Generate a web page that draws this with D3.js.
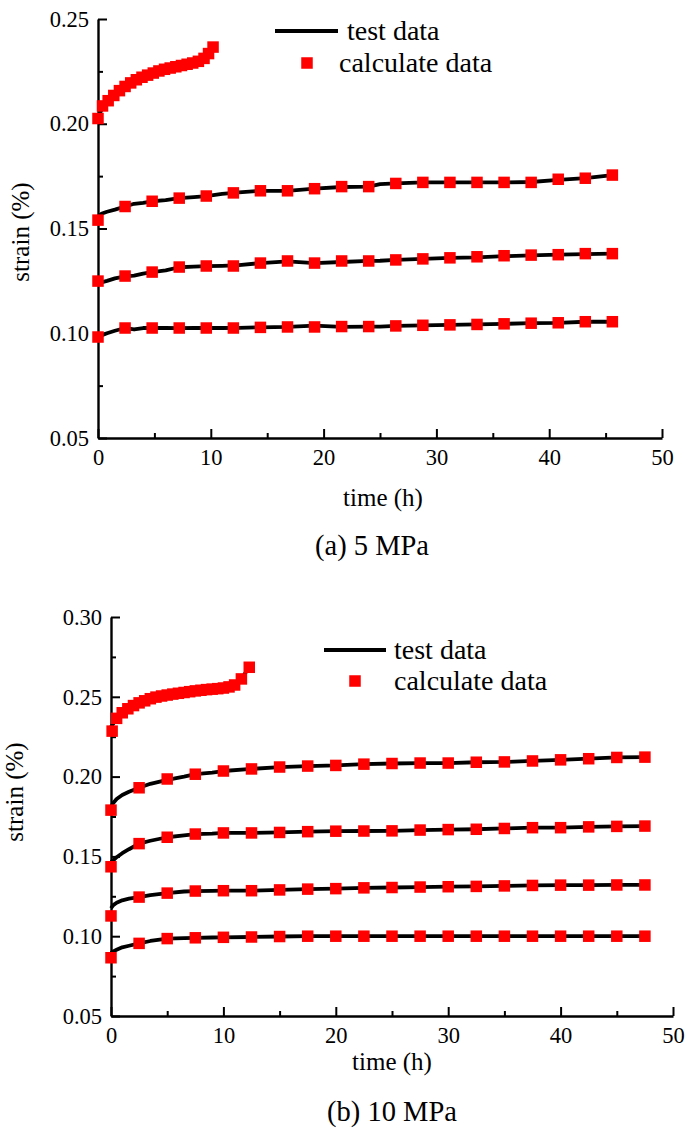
<!doctype html>
<meta charset="utf-8">
<title>creep strain</title>
<style>
body { margin: 0; background: #fff; }
svg { font-family: "Liberation Serif", "Times New Roman", serif; }
</style>
<script src="https://cdn.jsdelivr.net/npm/d3@7"></script>
<body>
<svg id="chart" width="685" height="1136"></svg>
<script>
// ---- panel (a) 5 MPa ----
var calcTimeA = [0, 2.4, 4.8, 7.2, 9.6, 12, 14.4, 16.8, 19.2, 21.6, 24, 26.4, 28.8, 31.2, 33.6, 36, 38.4, 40.8, 43.2, 45.6];
var calcA1 = [0.154, 0.1605, 0.163, 0.1645, 0.1655, 0.167, 0.168, 0.168, 0.169, 0.170, 0.170, 0.1715, 0.172, 0.172, 0.172, 0.172, 0.172, 0.1735, 0.174, 0.1755];
var calcA2 = [0.1249, 0.1273, 0.1292, 0.1316, 0.1321, 0.1321, 0.1335, 0.1345, 0.1335, 0.1345, 0.1345, 0.135, 0.1355, 0.136, 0.1365, 0.137, 0.1373, 0.1375, 0.138, 0.138];
var calcA3 = [0.0982, 0.1025, 0.1025, 0.1025, 0.1025, 0.1025, 0.1028, 0.103, 0.103, 0.1032, 0.1032, 0.1035, 0.1038, 0.104, 0.1042, 0.1045, 0.1048, 0.105, 0.1055, 0.1055];
var topTimeA = [0, 0.4, 0.9, 1.4, 1.9, 2.4, 2.9, 3.4, 3.9, 4.4, 4.9, 5.4, 5.9, 6.4, 6.9, 7.4, 7.9, 8.4, 8.9, 9.4, 9.8, 10.2];
var topA = [0.2025, 0.2085, 0.211, 0.2135, 0.2158, 0.2178, 0.2195, 0.221, 0.2222, 0.2232, 0.2242, 0.2252, 0.226, 0.2266, 0.2272, 0.2278, 0.2284, 0.229, 0.2298, 0.2312, 0.2335, 0.2366];

var testTimeA = [0, 0.3, 0.8, 1.5, 2.4, 3.2, 4.0, 4.8, 6, 7.2, 8.5, 9.6, 11, 12.5, 14.4, 16.8, 19.2, 21.6, 24, 25, 26.4, 28.8, 31.2, 33.6, 36, 38.4, 40.8, 43.2, 45.6];
var testA1 = [0.1555, 0.157, 0.158, 0.159, 0.1605, 0.1618, 0.1622, 0.163, 0.1635, 0.1645, 0.165, 0.1655, 0.1665, 0.1672, 0.168, 0.168, 0.169, 0.1698, 0.170, 0.1712, 0.1715, 0.172, 0.172, 0.172, 0.172, 0.1722, 0.1732, 0.174, 0.1755];
var testA2 = [0.1245, 0.1243, 0.125, 0.1262, 0.1272, 0.1275, 0.1285, 0.1292, 0.130, 0.1315, 0.1318, 0.132, 0.1322, 0.1325, 0.1335, 0.1343, 0.1335, 0.134, 0.1345, 0.1346, 0.135, 0.1355, 0.136, 0.1362, 0.1368, 0.1372, 0.1375, 0.1378, 0.138];
var testA3 = [0.0985, 0.099, 0.1, 0.1012, 0.1025, 0.1018, 0.1025, 0.1025, 0.1025, 0.1024, 0.1025, 0.1025, 0.1025, 0.1026, 0.1028, 0.103, 0.1036, 0.103, 0.1032, 0.1032, 0.1035, 0.1038, 0.104, 0.1042, 0.1045, 0.1048, 0.105, 0.1055, 0.1055];
var testTopTimeA = [0, 0.5, 1.5, 2.5, 3.5, 4.5, 5.5, 6.5, 7.5, 8.5, 9.5, 10.2];
var testTopA = [0.203, 0.209, 0.213, 0.2175, 0.2205, 0.2232, 0.2252, 0.2266, 0.2278, 0.2292, 0.232, 0.2366];

// ---- panel (b) 10 MPa ----
var calcTimeB = [0, 2.5, 5, 7.5, 10, 12.5, 15, 17.5, 20, 22.5, 25, 27.5, 30, 32.5, 35, 37.5, 40, 42.5, 45, 47.5];
var calcB1 = [0.179, 0.193, 0.1985, 0.2015, 0.2035, 0.2048, 0.206, 0.2066, 0.207, 0.2078, 0.2082, 0.2085, 0.2085, 0.209, 0.2092, 0.2098, 0.2105, 0.2112, 0.212, 0.2122];
var calcB2 = [0.1435, 0.158, 0.162, 0.164, 0.1647, 0.1647, 0.165, 0.1655, 0.1658, 0.1659, 0.166, 0.1665, 0.1668, 0.167, 0.1675, 0.168, 0.168, 0.1685, 0.1688, 0.169];
var calcB3 = [0.1127, 0.1245, 0.127, 0.1283, 0.1285, 0.1285, 0.129, 0.1295, 0.1298, 0.1303, 0.1305, 0.1308, 0.131, 0.1312, 0.1315, 0.1318, 0.132, 0.132, 0.1321, 0.1321];
var calcB4 = [0.0865, 0.0955, 0.0985, 0.099, 0.0993, 0.0995, 0.0998, 0.1, 0.1, 0.1, 0.1, 0.1, 0.1, 0.1, 0.1, 0.1, 0.1, 0.1, 0.1, 0.1];
var topTimeB = [0.1, 0.5, 1.0, 1.5, 2.0, 2.5, 3.0, 3.5, 4.0, 4.5, 5.0, 5.5, 6.0, 6.5, 7.0, 7.5, 8.0, 8.5, 9.0, 9.5, 10.0, 10.5, 11.0, 11.6, 12.3];
var topB = [0.2285, 0.2365, 0.240, 0.2425, 0.2445, 0.2462, 0.2475, 0.2488, 0.2498, 0.2505, 0.2511, 0.2517, 0.2522, 0.2527, 0.2532, 0.2537, 0.2541, 0.2545, 0.2548, 0.2551, 0.2555, 0.2562, 0.2574, 0.2612, 0.2685];

var testTimeB = [0, 0.2, 0.5, 1.0, 1.6, 2.5, 3.5, 5, 6.5, 7.5, 9, 10, 12.5, 15, 17.5, 20, 22.5, 25, 27.5, 30, 32.5, 35, 37.5, 40, 42.5, 45, 47.5];
var testB1 = [0.181, 0.1835, 0.186, 0.1885, 0.1905, 0.193, 0.1955, 0.198, 0.200, 0.2015, 0.2025, 0.2035, 0.2048, 0.206, 0.2066, 0.207, 0.2078, 0.2082, 0.2085, 0.2085, 0.209, 0.2092, 0.2098, 0.2105, 0.2112, 0.212, 0.2122];
var testB2 = [0.1465, 0.1475, 0.1495, 0.152, 0.1545, 0.158, 0.1598, 0.162, 0.1632, 0.164, 0.1643, 0.1647, 0.1647, 0.165, 0.1655, 0.1658, 0.1659, 0.166, 0.1665, 0.1668, 0.167, 0.1675, 0.168, 0.168, 0.1685, 0.1688, 0.169];
var testB3 = [0.1175, 0.1195, 0.121, 0.1225, 0.1235, 0.1245, 0.1258, 0.127, 0.128, 0.1283, 0.1284, 0.1285, 0.1285, 0.129, 0.1295, 0.1298, 0.1303, 0.1305, 0.1308, 0.131, 0.1312, 0.1315, 0.1318, 0.132, 0.132, 0.1321, 0.1321];
var testB4 = [0.0895, 0.0905, 0.0915, 0.093, 0.094, 0.0955, 0.097, 0.0985, 0.0988, 0.099, 0.0992, 0.0993, 0.0995, 0.0998, 0.1, 0.1, 0.1, 0.1, 0.1, 0.1, 0.1, 0.1, 0.1, 0.1, 0.1, 0.1, 0.1];
var testTopTimeB = [0, 0.5, 1.5, 2.5, 3.5, 5, 6.5, 8, 9.5, 11, 11.6, 12.3];
var testTopB = [0.231, 0.2365, 0.2425, 0.2462, 0.2488, 0.2511, 0.2527, 0.2541, 0.2551, 0.2574, 0.2612, 0.2685];

var xTicks = [0, 10, 20, 30, 40, 50];
var xMinor = [5, 15, 25, 35, 45];
var yTicksA = [0.05, 0.10, 0.15, 0.20, 0.25];
var yMinorA = [0.075, 0.125, 0.175, 0.225];
var yTicksB = [0.05, 0.10, 0.15, 0.20, 0.25, 0.30];
var yMinorB = [0.075, 0.125, 0.175, 0.225, 0.275];
var legendLabels = ["test data", "calculate data"];

var svg = d3.select("#chart");

function zip(ts, vs) { return ts.map(function(t, i) { return [t, vs[i]]; }); }

function drawPanel(p) {
  var x = d3.scaleLinear().domain([0, 50]).range([p.x0, p.x1]);
  var y = d3.scaleLinear().domain(p.yDomain).range([p.y0, p.y1]);
  var g = svg.append("g");

  // axes, ticks pointing inward
  g.append("g").attr("transform", "translate(0," + p.y0 + ")")
    .call(d3.axisBottom(x).tickValues(xTicks).tickSize(-9).tickSizeOuter(0).tickPadding(11).tickFormat(d3.format("d")));
  g.append("g").attr("transform", "translate(0," + p.y0 + ")")
    .call(d3.axisBottom(x).tickValues(xMinor).tickSize(-5).tickFormat(""))
    .select(".domain").remove();
  g.append("g").attr("transform", "translate(" + p.x0 + ",0)")
    .call(d3.axisLeft(y).tickValues(p.yTicks).tickSize(-9).tickSizeOuter(0).tickPadding(9).tickFormat(d3.format(".2f")));
  g.append("g").attr("transform", "translate(" + p.x0 + ",0)")
    .call(d3.axisLeft(y).tickValues(p.yMinor).tickSize(-5).tickFormat(""))
    .select(".domain").remove();
  g.selectAll(".domain").attr("stroke-width", 2.4);
  g.selectAll(".tick line").attr("stroke-width", 2);
  g.selectAll(".tick text").attr("font-size", 22.5).attr("font-family", "Liberation Serif").attr("fill", "#000");

  // test data lines
  var line = d3.line().x(function(d) { return x(d[0]); }).y(function(d) { return y(d[1]); });
  p.tests.forEach(function(s) {
    g.append("path").datum(zip(s[0], s[1]))
      .attr("fill", "none").attr("stroke", "#000").attr("stroke-width", 3.8)
      .attr("stroke-linejoin", "round").attr("d", line);
  });

  // calculated points
  var sz = 11.5;
  p.calcs.forEach(function(s) {
    g.append("g").selectAll("rect").data(zip(s[0], s[1])).join("rect")
      .attr("x", function(d) { return x(d[0]) - sz / 2; })
      .attr("y", function(d) { return y(d[1]) - sz / 2; })
      .attr("width", sz).attr("height", sz).attr("fill", "#ff0000");
  });

  // axis titles
  g.append("text").attr("x", p.xTitle[0]).attr("y", p.xTitle[1]).attr("text-anchor", "middle")
    .attr("font-size", 25).text("time (h)");
  g.append("text").attr("transform", "translate(" + p.yTitle[0] + "," + p.yTitle[1] + ") rotate(-90)")
    .attr("text-anchor", "middle").attr("font-size", 25).text("strain (%)");
  g.append("text").attr("x", p.caption[0]).attr("y", p.caption[1]).attr("text-anchor", "middle")
    .attr("font-size", 28.5).text(p.captionText);

  // legend
  var L = p.legend;
  g.append("line").attr("x1", L.lx0).attr("x2", L.lx1).attr("y1", L.ly).attr("y2", L.ly)
    .attr("stroke", "#000").attr("stroke-width", 4);
  g.append("text").attr("x", L.tx1).attr("y", L.ly).attr("dy", "0.33em").attr("font-size", 28).text(legendLabels[0]);
  g.append("rect").attr("x", L.sx - sz / 2).attr("y", L.sy - sz / 2).attr("width", sz).attr("height", sz).attr("fill", "#ff0000");
  g.append("text").attr("x", L.tx2).attr("y", L.sy).attr("dy", "0.33em").attr("font-size", 28).text(legendLabels[1]);
}

drawPanel({
  x0: 98, x1: 662, y0: 438, y1: 19, yDomain: [0.05, 0.25],
  yTicks: yTicksA, yMinor: yMinorA,
  tests: [[testTopTimeA, testTopA], [testTimeA, testA1], [testTimeA, testA2], [testTimeA, testA3]],
  calcs: [[topTimeA, topA], [calcTimeA, calcA1], [calcTimeA, calcA2], [calcTimeA, calcA3]],
  xTitle: [383, 506], yTitle: [29, 232], caption: [372, 555], captionText: "(a) 5 MPa",
  legend: { lx0: 275, lx1: 338, ly: 31, tx1: 347, sx: 307, sy: 63, tx2: 339 }
});

drawPanel({
  x0: 111, x1: 673, y0: 1016, y1: 617, yDomain: [0.05, 0.30],
  yTicks: yTicksB, yMinor: yMinorB,
  tests: [[testTopTimeB, testTopB], [testTimeB, testB1], [testTimeB, testB2], [testTimeB, testB3], [testTimeB, testB4]],
  calcs: [[topTimeB, topB], [calcTimeB, calcB1], [calcTimeB, calcB2], [calcTimeB, calcB3], [calcTimeB, calcB4]],
  xTitle: [392, 1070], yTitle: [23, 792], caption: [392, 1121], captionText: "(b) 10 MPa",
  legend: { lx0: 324, lx1: 386, ly: 650, tx1: 394, sx: 355, sy: 681, tx2: 394 }
});
</script>
</body>
